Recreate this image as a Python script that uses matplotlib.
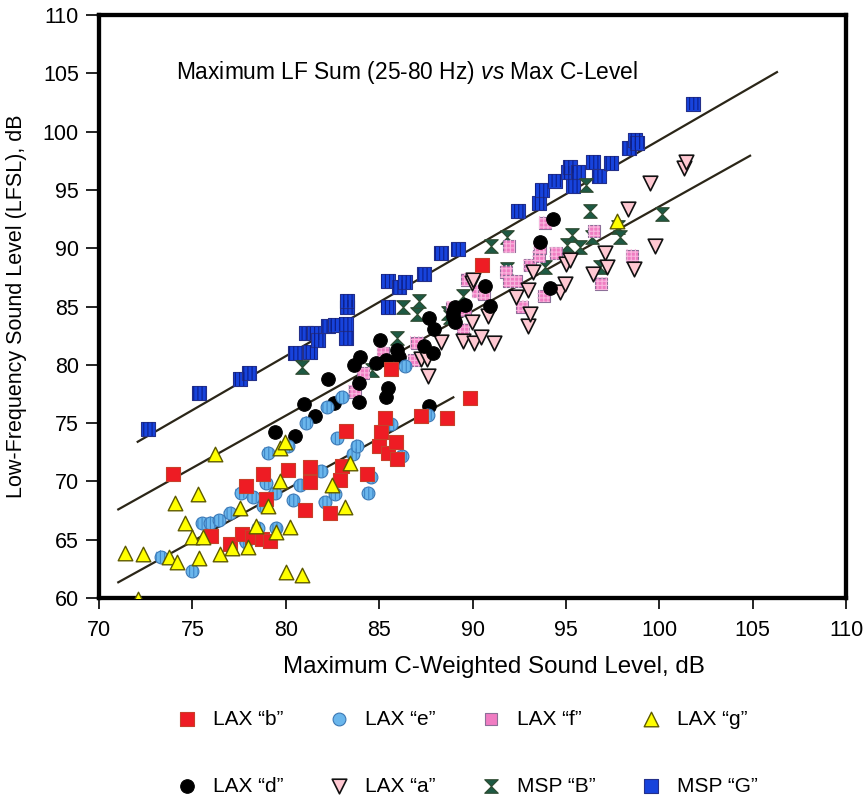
import numpy as np
import matplotlib
matplotlib.use("Agg")
import matplotlib.pyplot as plt
from matplotlib.path import Path

plt.rcParams['font.family'] = ['Liberation Sans', 'DejaVu Sans']
plt.rcParams['mathtext.fontset'] = 'custom'
plt.rcParams['mathtext.rm'] = 'Liberation Sans'
plt.rcParams['mathtext.it'] = 'Liberation Sans:italic'
plt.rcParams['hatch.linewidth'] = 0.8

# Max C-weighted level (x) and max LF sum 25-80 Hz (y), dB, per site
lax_b_x = [73.95, 76.0, 77.0, 77.65, 77.85, 78.2, 78.7, 78.8, 78.95, 79.15, 80.1, 81.05, 81.3, 81.3, 82.35,
           82.9, 83.0, 83.2, 84.35, 85.0, 85.1, 85.3, 85.45, 85.9, 85.95, 85.65, 87.25, 88.65, 89.85, 90.5]
lax_b_y = [70.65, 65.3, 64.6, 65.45, 69.65, 65.25, 65.1, 70.65, 68.45, 64.85, 71.0, 67.55, 71.2, 69.95, 67.25,
           70.15, 71.35, 74.3, 70.65, 73.0, 74.25, 75.4, 72.4, 73.4, 71.9, 79.6, 75.6, 75.45, 77.15, 88.55]

lax_e_x = [73.3, 75.0, 75.5, 75.95, 76.45, 77.0, 77.6, 77.85, 78.25, 78.5, 78.8, 78.95, 79.05, 79.4, 79.5,
           80.1, 80.4, 80.75, 81.1, 81.9, 82.1, 82.2, 82.65, 82.75, 83.0, 83.6, 83.8, 84.4, 84.55, 85.65,
           86.2, 86.4, 87.6]
lax_e_y = [63.55, 62.35, 66.4, 66.45, 66.65, 67.3, 69.05, 64.8, 68.7, 66.0, 67.9, 69.9, 72.45, 69.0, 66.0,
           73.05, 68.4, 69.7, 75.05, 70.9, 68.25, 76.35, 68.9, 73.7, 77.25, 72.35, 73.05, 69.0, 70.35, 74.9,
           72.2, 79.9, 75.7]

lax_f_x = [83.7, 84.15, 85.2, 86.85, 87.0, 88.9, 89.5, 89.6, 89.7, 90.3, 90.6, 91.8, 91.95, 91.95, 92.3,
           92.65, 93.05, 93.55, 93.6, 93.8, 93.9, 94.45, 96.5, 96.9, 98.55]
lax_f_y = [77.7, 79.3, 81.05, 80.4, 81.9, 84.9, 83.0, 84.7, 87.3, 86.3, 86.1, 88.0, 87.15, 90.15, 87.15,
           85.0, 88.55, 89.3, 90.0, 85.9, 92.2, 89.55, 91.45, 86.95, 89.35]

lax_g_x = [71.4, 72.1, 72.35, 73.75, 74.05, 74.15, 74.6, 75.0, 75.3, 75.35, 75.55, 76.2, 76.5, 77.1, 77.55,
           78.0, 78.4, 79.05, 79.5, 79.7, 79.7, 79.95, 80.0, 80.25, 80.85, 82.45, 83.15, 83.45, 97.75]
lax_g_y = [63.9, 59.95, 63.75, 63.5, 68.15, 63.1, 66.45, 65.2, 68.9, 63.4, 65.2, 72.35, 63.75, 64.25, 67.7,
           64.4, 66.2, 67.9, 65.7, 70.05, 72.85, 73.4, 62.25, 66.1, 61.95, 69.7, 67.8, 71.55, 92.3]

lax_d_x = [79.4, 80.5, 81.0, 81.55, 82.25, 82.6, 83.65, 84.0, 83.9, 83.9, 84.85, 85.05, 85.35, 85.45, 85.35,
           85.95, 86.05, 87.4, 87.9, 87.65, 87.65, 87.95, 88.95, 88.95, 89.05, 89.05, 89.6, 90.65, 90.95,
           93.6, 94.3, 94.15]
lax_d_y = [74.25, 73.9, 76.65, 75.6, 78.8, 76.75, 80.0, 80.7, 78.4, 76.85, 80.15, 82.15, 80.4, 78.0, 77.25,
           81.25, 80.65, 81.65, 81.0, 76.5, 84.05, 83.05, 84.15, 84.55, 84.95, 83.7, 85.15, 86.8, 85.05,
           90.5, 92.5, 86.55]

lax_a_x = [87.25, 87.55, 87.6, 88.3, 89.5, 89.95, 89.95, 90.05, 90.1, 90.45, 90.85, 91.15, 92.3, 92.95, 92.95,
           93.1, 93.25, 94.7, 94.95, 95.0, 95.2, 96.45, 97.1, 97.2, 98.3, 98.65, 99.5, 99.75, 101.3, 101.45]
lax_a_y = [80.5, 80.5, 79.05, 81.95, 82.05, 83.7, 87.0, 87.3, 81.85, 82.4, 84.15, 81.85, 85.85, 86.45, 83.35,
           84.35, 88.0, 86.25, 86.95, 88.65, 89.0, 87.8, 89.55, 88.35, 93.4, 88.2, 95.55, 90.2, 96.9, 97.4]

msp_b_x = [80.85, 84.6, 85.95, 86.25, 87.05, 87.15, 88.7, 88.8, 89.5, 91.0, 91.85, 91.85, 93.9, 95.05, 95.3,
           95.75, 96.05, 96.3, 96.4, 96.85, 97.8, 97.9, 100.15]
msp_b_y = [79.85, 79.55, 82.3, 84.95, 84.35, 85.45, 84.45, 84.1, 85.9, 90.15, 91.0, 88.2, 88.4, 90.3, 91.15,
           90.1, 95.4, 93.15, 91.0, 88.4, 91.85, 91.0, 92.9]

msp_g_x = [72.6, 75.35, 77.55, 78.05, 80.5, 81.3, 81.1, 81.5, 81.7, 82.25, 82.65, 83.2, 83.25, 83.3, 83.3,
           85.45, 85.45, 86.05, 86.4, 87.4, 88.3, 89.2, 92.45, 93.55, 93.7, 94.4, 95.1, 95.2, 95.65, 95.4,
           96.45, 96.75, 97.4, 98.4, 98.7, 98.8, 101.8]
msp_g_y = [74.5, 77.6, 78.8, 79.3, 81.0, 81.1, 82.7, 82.7, 82.1, 83.3, 83.45, 83.5, 82.3, 84.95, 85.5,
           84.95, 87.2, 86.65, 87.1, 87.75, 89.55, 89.9, 93.2, 93.85, 94.95, 95.8, 96.5, 97.0, 96.5, 95.35,
           97.4, 96.15, 97.3, 98.6, 99.3, 99.05, 102.4]

# fitted trend lines (end points, dB)
fit_hi_x = [72.07, 106.3]
fit_hi_y = [73.4, 105.1]
fit_mid_x = [71.03, 104.86]
fit_mid_y = [67.6, 97.93]
fit_lo_x = [71.03, 88.97]
fit_lo_y = [61.35, 77.21]

# hourglass marker
hourglass = Path([(-1, 1), (1, 1), (-1, -1), (1, -1), (-1, 1)],
                 [Path.MOVETO, Path.LINETO, Path.LINETO, Path.LINETO, Path.CLOSEPOLY])

fig = plt.figure(figsize=(8.65, 8.05), dpi=100)
ax = fig.add_axes([0.1145, 0.2571, 0.8636, 0.7243])

for fx, fy in [(fit_hi_x, fit_hi_y), (fit_mid_x, fit_mid_y), (fit_lo_x, fit_lo_y)]:
    ax.plot(fx, fy, color='#2b2618', lw=1.6, zorder=2)

def series(x, y, marker, face, edge, s, label, hatch=None, hcol=None, lw=0.8):
    h = ax.scatter(x, y, marker=marker, s=s, c=face, edgecolors=edge, linewidths=lw,
                   label=label, zorder=3)
    if hatch:
        ax.scatter(x, y, marker=marker, s=s, facecolors='none', edgecolors=hcol,
                   linewidths=0, hatch=hatch, zorder=3)
    return h

h_g = series(msp_g_x, msp_g_y, 's', '#1743dc', '#24308a', 95, 'MSP \u201cG\u201d', '||||', '#0c1f8a')
h_b = series(msp_b_x, msp_b_y, hourglass, '#1d5a44', '#2f4a30', 95, 'MSP \u201cB\u201d')
h_f = series(lax_f_x, lax_f_y, 's', '#f07cc2', '#8d6f98', 85, 'LAX \u201cf\u201d', '++++', '#f9b6de')
h_a = series(lax_a_x, lax_a_y, 'v', '#ffc8d2', '#111111', 110, 'LAX \u201ca\u201d', lw=1.2)
h_d = series(lax_d_x, lax_d_y, 'o', '#000000', '#000000', 95, 'LAX \u201cd\u201d')
h_e = series(lax_e_x, lax_e_y, 'o', '#6ab6ec', '#3c78b4', 85, 'LAX \u201ce\u201d', '||||', '#3f86c8')
h_r = series(lax_b_x, lax_b_y, 's', '#ee1c24', '#c8402a', 95, 'LAX \u201cb\u201d')
h_y = series(lax_g_x, lax_g_y, '^', '#ffff00', '#5e5a00', 110, 'LAX \u201cg\u201d', lw=1.0)

ax.set_xlim(70, 110)
ax.set_ylim(60, 110)
ax.set_xticks(np.arange(70, 111, 5))
ax.set_yticks(np.arange(60, 111, 5))
ax.tick_params(direction='out', width=1.2, labelsize=15.5)
ax.tick_params(axis='x', length=8, pad=8)
ax.tick_params(axis='y', length=9.5, pad=5)
for sp in ax.spines.values():
    sp.set_linewidth(3.1)

ax.set_xlabel('Maximum C-Weighted Sound Level, dB', fontsize=17.4)
ax.xaxis.set_label_coords(0.529, -0.0995)
ax.set_ylabel('Low-Frequency Sound Level (LFSL), dB', fontsize=15.5)
ax.yaxis.set_label_coords(-0.096, 0.5)

ax.text(0.103, 0.902, r'Maximum LF Sum (25-80 Hz) $\it{vs}$ Max C-Level', transform=ax.transAxes,
        fontsize=16.4, va='center', ha='left')

handles = [h_r, h_d, h_e, h_a, h_f, h_b, h_y, h_g]
fig.legend(handles=handles, labels=[h.get_label() for h in handles], ncol=4, loc='center',
           bbox_to_anchor=(0.540, 0.065), frameon=False, fontsize=15, handletextpad=0.75,
           columnspacing=2.15, labelspacing=2.3, handlelength=1.0, scatterpoints=1)

fig.savefig('out.png', dpi=100)
